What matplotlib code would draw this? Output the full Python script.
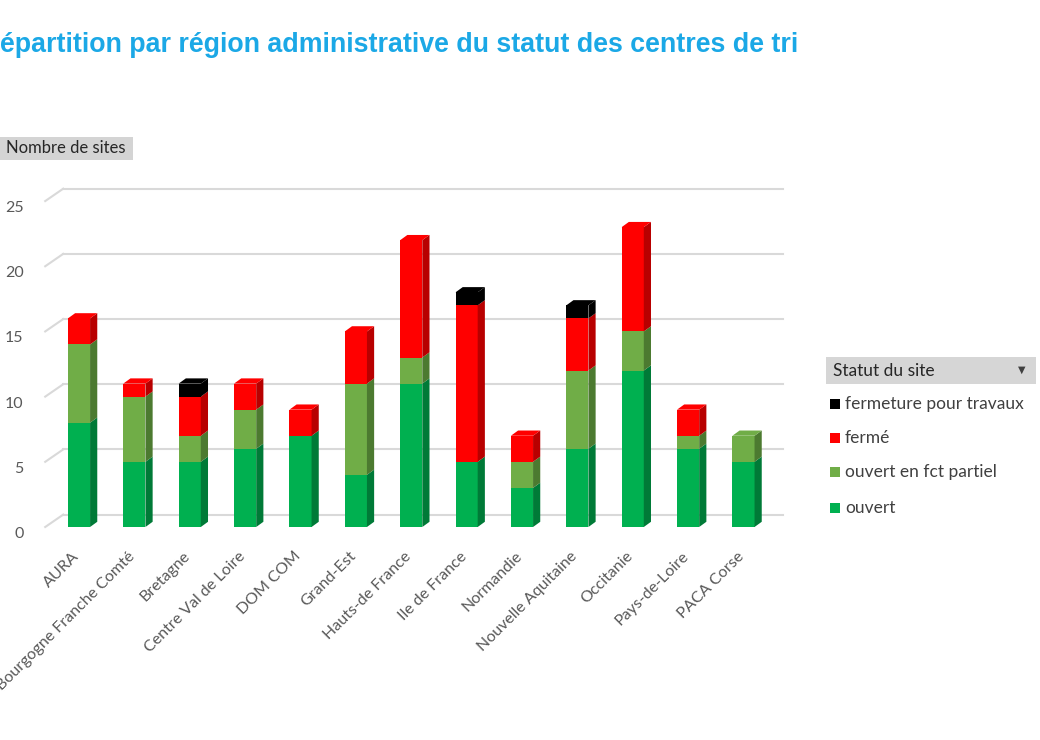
import matplotlib.pyplot as plt
from matplotlib.patches import Rectangle, Polygon
from matplotlib.transforms import ScaledTranslation
import numpy as np

regions = ['AURA', 'Bourgogne Franche Comté', 'Bretagne', 'Centre Val de Loire',
           'DOM COM', 'Grand-Est', 'Hauts-de France', 'Ile de France', 'Normandie',
           'Nouvelle Aquitaine', 'Occitanie', 'Pays-de-Loire', 'PACA Corse']
ouvert = [8, 5, 5, 6, 7, 4, 11, 5, 3, 6, 12, 6, 5]
partiel = [6, 5, 2, 3, 0, 7, 2, 0, 2, 6, 3, 1, 2]
ferme = [2, 1, 3, 2, 2, 4, 9, 12, 2, 4, 8, 2, 0]
travaux = [0, 0, 1, 0, 0, 0, 0, 1, 0, 1, 0, 0, 0]
yticks = [0, 5, 10, 15, 20, 25]

series = [('ouvert', ouvert, '#00b050', '#007a37'),
          ('ouvert en fct partiel', partiel, '#70ad47', '#4c7a30'),
          ('fermé', ferme, '#ff0000', '#b80000'),
          ('fermeture pour travaux', travaux, '#000000', '#000000')]

plt.rcParams['font.family'] = ['Lato', 'DejaVu Sans']

fig = plt.figure(figsize=(10.4, 7.4), dpi=100)
ax = fig.add_axes([43 / 1040, 213 / 740, 742 / 1040, 352 / 740])
ax.set_xlim(-0.65, 12.75)
ax.set_ylim(0, 27)

# profondeur 3D en unites de donnees
w = 0.40
dx, dy = 0.13, 0.40        # barres
gdx, gdy = 0.325, 0.95     # paroi du fond
grid_c = '#d9d9d9'

# quadrillage sur la paroi du fond + diagonales a gauche
for t in yticks:
    ax.plot([-0.61 + gdx, 12.71], [t + gdy, t + gdy], color=grid_c, lw=1.5, zorder=0, clip_on=False)
    ax.plot([-0.61, -0.61 + gdx], [t, t + gdy], color=grid_c, lw=1.5, zorder=0, clip_on=False)

x = np.arange(len(regions))
totals = np.sum([s[1] for s in series], axis=0)
bottom = np.zeros(len(regions))
for name, vals, col, dark in series:
    vals = np.array(vals, dtype=float)
    ax.bar(x, vals, width=w, bottom=bottom, color=col, zorder=2)
    for i in range(len(x)):
        if vals[i] == 0:
            continue
        x0, x1 = x[i] - w / 2, x[i] + w / 2
        b, t = bottom[i], bottom[i] + vals[i]
        # face laterale
        ax.add_patch(Polygon([[x1, b], [x1 + dx, b + dy], [x1 + dx, t + dy], [x1, t]],
                             closed=True, facecolor=dark, edgecolor='none', zorder=2))
        # dessus seulement pour le segment du haut
        if t == totals[i]:
            ax.add_patch(Polygon([[x0, t], [x0 + dx, t + dy], [x1 + dx, t + dy], [x1, t]],
                                 closed=True, facecolor=col, edgecolor='none', zorder=3))
    bottom += vals

for s in ax.spines.values():
    s.set_visible(False)
ax.set_yticks(yticks)
ax.set_yticklabels([str(t) for t in yticks])
ax.set_xticks(x)
ax.set_xticklabels(regions, rotation=45, ha='right', rotation_mode='anchor')
ax.tick_params(length=0, colors='#595959', labelsize=11.5)
ax.tick_params(axis='y', pad=14)
ax.tick_params(axis='x', pad=15)
for lab in ax.get_xticklabels():
    lab.set_transform(lab.get_transform() + ScaledTranslation(-5 / 72, -1 / 72, fig.dpi_scale_trans))
for lab in ax.get_yticklabels():
    lab.set_transform(lab.get_transform() + ScaledTranslation(0, -4 / 72, fig.dpi_scale_trans))

# titre (coupe a gauche comme l'original)
fig.text(0.0, 1 - 45 / 740, 'épartition par région administrative du statut des centres de tri',
         fontsize=19.3, fontweight='bold', color='#1ba8e6', va='center', ha='left',
         family=['Liberation Sans', 'DejaVu Sans'])

# etiquette "Nombre de sites"
fig.patches.append(Rectangle((0, 1 - 160 / 740), 133 / 1040, 23 / 740, transform=fig.transFigure,
                             facecolor='#d4d4d4', edgecolor='none'))
fig.text(6 / 1040, 1 - 148 / 740, 'Nombre de sites', fontsize=12, color='#262626', va='center')

# legende
fig.patches.append(Rectangle((826 / 1040, 1 - 384 / 740), 210 / 1040, 27 / 740, transform=fig.transFigure,
                             facecolor='#d6d6d6', edgecolor='none'))
fig.text(833 / 1040, 1 - 371 / 740, 'Statut du site', fontsize=12.5, color='#262626', va='center')
fig.text(1022 / 1040, 1 - 370 / 740, '▼', fontsize=7, color='#404040', va='center', ha='center',
         family=['DejaVu Sans'])
leg_y = [404, 438, 472, 508]
for (name, vals, col, dark), yy in zip(series[::-1], leg_y):
    fig.patches.append(Rectangle((830 / 1040, 1 - (yy + 5) / 740), 10 / 1040, 10 / 740,
                                 transform=fig.transFigure, facecolor=col, edgecolor='none'))
    fig.text(845 / 1040, 1 - yy / 740, name, fontsize=12.5, color='#404040', va='center')

fig.savefig('out.png', dpi=100)
